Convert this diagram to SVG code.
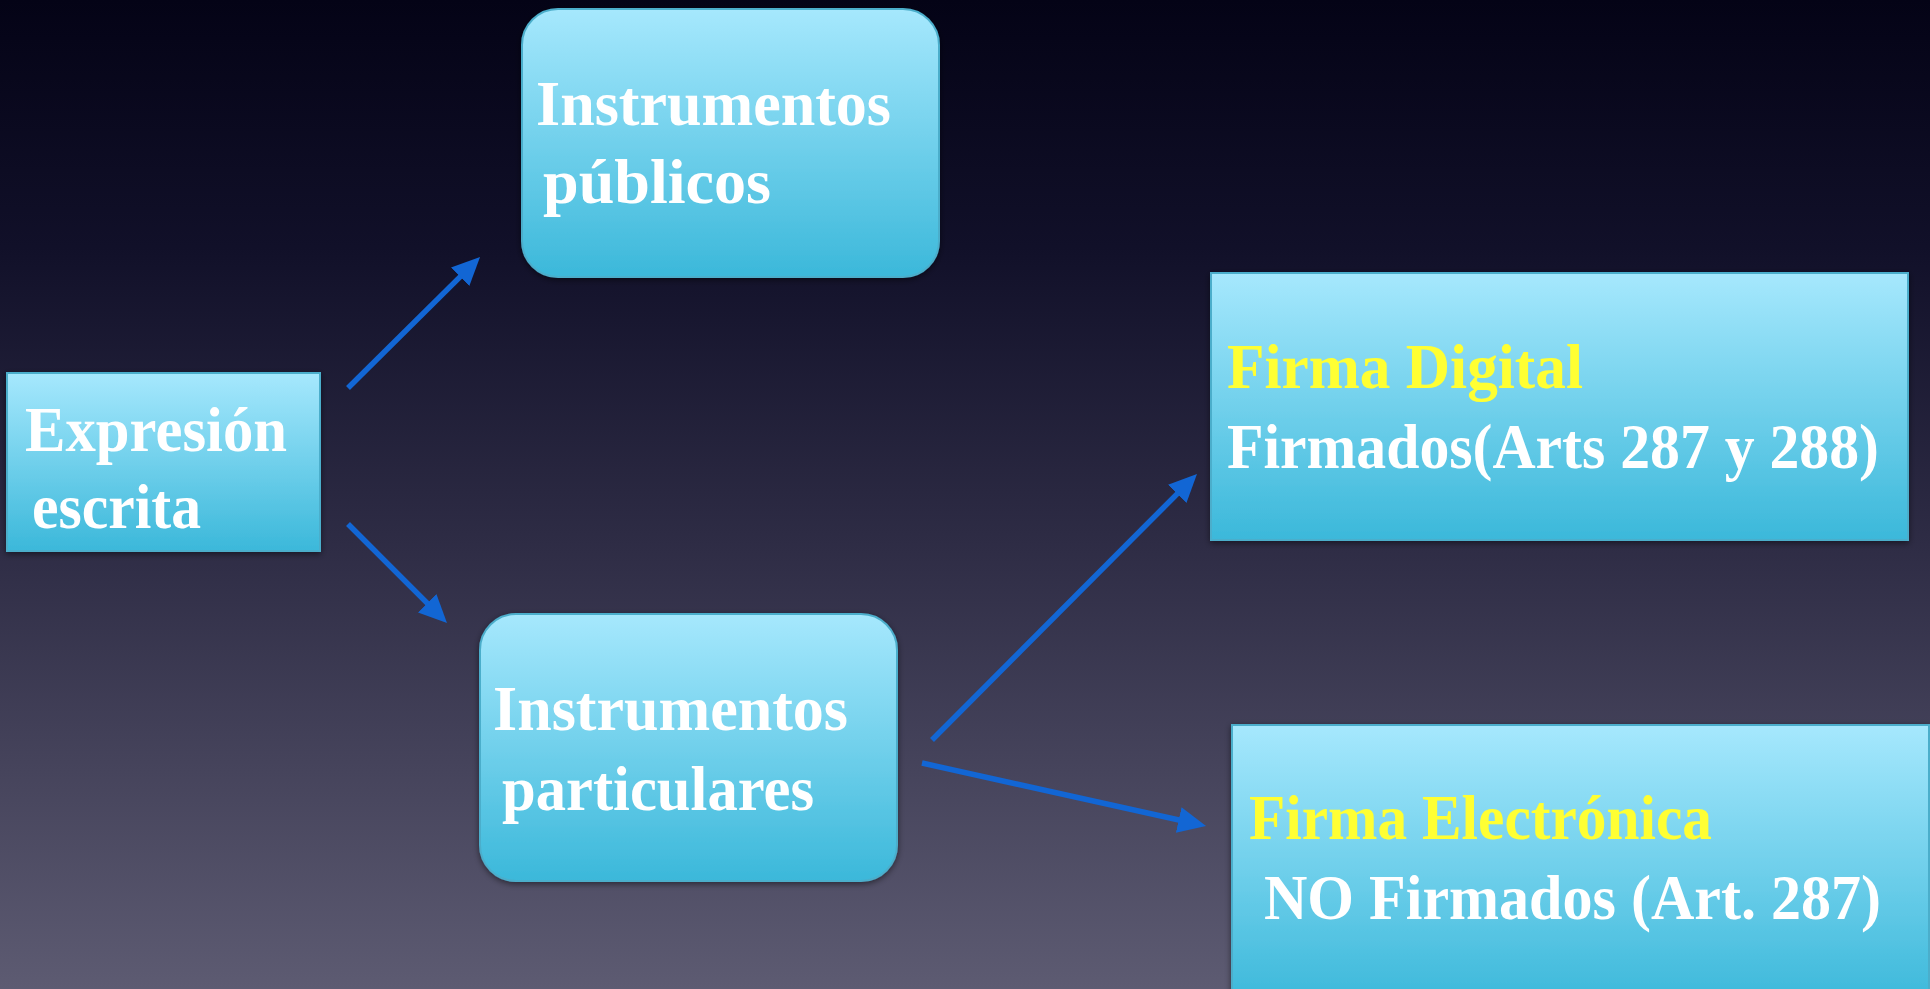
<svg xmlns="http://www.w3.org/2000/svg" width="1930" height="989" viewBox="0 0 1930 989">
  <defs>
    <linearGradient id="bg" x1="0" y1="0" x2="0" y2="1">
      <stop offset="0" stop-color="#040316"/>
      <stop offset="0.25" stop-color="#111029"/>
      <stop offset="0.55" stop-color="#2e2c45"/>
      <stop offset="1" stop-color="#5d5b72"/>
    </linearGradient>
    <linearGradient id="box" x1="0" y1="0" x2="0" y2="1">
      <stop offset="0" stop-color="#a6e8fd"/>
      <stop offset="1" stop-color="#3bb8da"/>
    </linearGradient>
    <filter id="sh" x="-10%" y="-10%" width="120%" height="120%">
      <feDropShadow dx="0" dy="2" stdDeviation="3" flood-color="#000" flood-opacity="0.5"/>
    </filter>
    <marker id="ah" markerUnits="userSpaceOnUse" markerWidth="30" markerHeight="28" refX="13" refY="13" orient="auto">
      <path d="M0,0 L28,13 L0,26 Z" fill="#1266d4"/>
    </marker>
    <style>
      .node rect { fill: url(#box); stroke: #4caecb; stroke-width: 2; filter: url(#sh); }
      .t { font-family: "Liberation Serif", "DejaVu Serif", serif; font-weight: bold; font-size: 64px; fill: #ffffff; }
      .y { fill: #ffff33; }
      .conn line { stroke: #1266d4; stroke-width: 5.5; marker-end: url(#ah); }
    </style>
  </defs>
  <rect x="0" y="0" width="1930" height="989" fill="url(#bg)"/>

  <g id="expresion" class="node">
    <rect x="7" y="373" width="313" height="178"/>
    <text class="t" x="25" y="451" textLength="262" lengthAdjust="spacingAndGlyphs">Expresión</text>
    <text class="t" x="32" y="528" textLength="169" lengthAdjust="spacingAndGlyphs">escrita</text>
  </g>

  <g id="publicos" class="node">
    <rect x="522" y="9" width="417" height="268" rx="36" ry="36"/>
    <text class="t" x="536" y="125" textLength="355" lengthAdjust="spacingAndGlyphs">Instrumentos</text>
    <text class="t" x="543" y="203" textLength="228" lengthAdjust="spacingAndGlyphs">públicos</text>
  </g>

  <g id="particulares" class="node">
    <rect x="480" y="614" width="417" height="267" rx="36" ry="36"/>
    <text class="t" x="493" y="730" textLength="355" lengthAdjust="spacingAndGlyphs">Instrumentos</text>
    <text class="t" x="502" y="810" textLength="312" lengthAdjust="spacingAndGlyphs">particulares</text>
  </g>

  <g id="firma-digital" class="node">
    <rect x="1211" y="273" width="697" height="267"/>
    <text class="t y" x="1227" y="388" textLength="356" lengthAdjust="spacingAndGlyphs">Firma Digital</text>
    <text class="t" x="1227" y="468" textLength="652" lengthAdjust="spacingAndGlyphs">Firmados(Arts 287 y 288)</text>
  </g>

  <g id="firma-electronica" class="node">
    <rect x="1232" y="725" width="697" height="280"/>
    <text class="t y" x="1249" y="839" textLength="463" lengthAdjust="spacingAndGlyphs">Firma Electrónica</text>
    <text class="t" x="1264" y="919" textLength="617" lengthAdjust="spacingAndGlyphs">NO Firmados (Art. 287)</text>
  </g>

  <g id="connectors" class="conn">
    <line x1="348" y1="388" x2="469.4" y2="267.6"/>
    <line x1="348" y1="524" x2="436.4" y2="612.4"/>
    <line x1="932" y1="740" x2="1186.4" y2="484.6"/>
    <line x1="922" y1="763" x2="1191.4" y2="822.8"/>
  </g>
</svg>
